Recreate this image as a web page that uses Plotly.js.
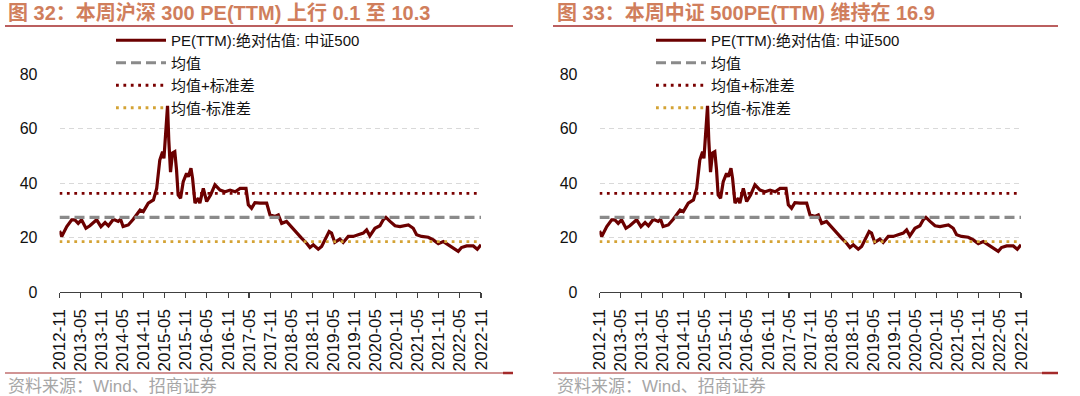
<!DOCTYPE html>
<html>
<head>
<meta charset="utf-8">
<script src="https://cdn.plot.ly/plotly-3.0.1.min.js"></script>
<style>html,body{margin:0;padding:0;background:#fff;}#chart{width:1080px;height:396px;}</style>
</head>
<body>
<div id="chart"></div>
<script>
// ---- data ----
const dates = ['2012-11-01','2012-11-20','2013-01-03','2013-02-15','2013-03-14','2013-04-12','2013-05-11','2013-06-18','2013-07-22','2013-09-19','2013-10-26','2013-12-01','2013-12-30','2014-02-11','2014-03-24','2014-04-14','2014-05-06','2014-06-20','2014-08-02','2014-09-01','2014-09-30','2014-10-28','2014-12-10','2015-01-24','2015-02-21','2015-03-20','2015-04-13','2015-04-25','2015-05-11','2015-05-26','2015-06-06','2015-06-21','2015-07-08','2015-07-28','2015-08-12','2015-08-26','2015-09-16','2015-10-09','2015-11-07','2015-11-22','2015-12-15','2015-12-29','2016-01-19','2016-02-17','2016-03-01','2016-03-31','2016-04-29','2016-06-02','2016-07-10','2016-08-23','2016-10-05','2016-11-18','2017-01-01','2017-02-13','2017-04-05','2017-04-25','2017-05-23','2017-06-21','2017-08-04','2017-10-01','2017-10-30','2017-12-12','2018-01-10','2018-02-08','2018-03-22','2018-05-04','2018-06-17','2018-07-30','2018-09-12','2018-10-11','2018-11-09','2018-12-22','2019-01-20','2019-02-19','2019-03-26','2019-04-16','2019-05-14','2019-06-27','2019-07-26','2019-09-08','2019-10-21','2019-12-03','2020-01-16','2020-02-14','2020-03-13','2020-04-26','2020-06-08','2020-07-07','2020-07-30','2020-09-04','2020-10-17','2020-11-29','2021-01-12','2021-02-10','2021-03-24','2021-04-22','2021-06-04','2021-08-01','2021-09-14','2021-10-27','2021-12-10','2022-01-22','2022-03-05','2022-04-18','2022-05-16','2022-06-29','2022-08-26','2022-09-30','2022-11-01'];
const pe = [22.4,20.4,24.0,26.5,26.5,25.2,26.5,23.4,24.3,26.5,24.0,25.5,24.3,26.7,25.9,26.7,24.0,24.6,26.7,28.3,30.1,29.5,32.6,33.8,38.0,48.4,51.5,49.0,58.0,68.3,55.7,44.0,51.0,51.5,44.8,35.6,34.4,40.5,43.5,42.3,45.4,41.7,32.6,34.4,32.6,38.0,33.2,35.6,39.3,37.4,36.8,37.4,36.8,38.0,38.0,32.0,30.7,32.8,32.6,32.6,28.3,27.7,28.3,25.2,25.9,23.8,21.6,19.8,17.9,16.3,17.3,15.7,16.7,19.4,22.2,21.6,18.2,19.4,18.2,20.4,20.4,21.0,21.6,22.8,20.6,23.4,24.3,26.5,27.4,25.9,24.3,24.0,24.3,24.6,23.4,21.0,20.4,20.1,19.1,17.7,18.5,17.3,16.1,14.9,16.3,16.9,16.9,15.7,17.3];
const meanVal = 27.35;
const upperVal = 36.2;   // 均值+标准差
const lowerVal = 18.5;   // 均值-标准差
const xStart = '2012-11-01';
const xEnd = '2022-11-01';
const tickDates = ['2012-11-01','2013-05-01','2013-11-01','2014-05-01','2014-11-01','2015-05-01','2015-11-01','2016-05-01','2016-11-01','2017-05-01','2017-11-01','2018-05-01','2018-11-01','2019-05-01','2019-11-01','2020-05-01','2020-11-01','2021-05-01','2021-11-01','2022-05-01','2022-11-01'];
const tickLabels = ['2012-11','2013-05','2013-11','2014-05','2014-11','2015-05','2015-11','2016-05','2016-11','2017-05','2017-11','2018-05','2018-11','2019-05','2019-11','2020-05','2020-11','2021-05','2021-11','2022-05','2022-11'];
const seriesNames = ['PE(TTM):绝对估值: 中证500','均值','均值+标准差','均值-标准差'];
const titles = ['图 32：本周沪深 300 PE(TTM) 上行 0.1 至 10.3','图 33：本周中证 500PE(TTM) 维持在 16.9'];
const sourceText = '资料来源：Wind、招商证券';

// ---- styling ----
const FONT = 'Liberation Sans, Arial, Noto Sans CJK SC, sans-serif';
const W = 1080, H = 396;
const px = v => v / W, py = v => 1 - v / H;

function panelTraces(suffix, legendName) {
  const xa = 'x' + suffix, ya = 'y' + suffix;
  return [
    {x: dates, y: pe, type: 'scatter', mode: 'lines', name: seriesNames[0], xaxis: xa, yaxis: ya, legend: legendName,
     line: {color: '#6b0000', width: 3.2}},
    {x: [xStart, xEnd], y: [meanVal, meanVal], type: 'scatter', mode: 'lines', name: seriesNames[1], xaxis: xa, yaxis: ya, legend: legendName,
     line: {color: '#8a8a8a', width: 3.2, dash: '10px,5px'}},
    {x: [xStart, xEnd], y: [upperVal, upperVal], type: 'scatter', mode: 'lines', name: seriesNames[2], xaxis: xa, yaxis: ya, legend: legendName,
     line: {color: '#7a0000', width: 2.8, dash: '2.8px,4.6px'}},
    {x: [xStart, xEnd], y: [lowerVal, lowerVal], type: 'scatter', mode: 'lines', name: seriesNames[3], xaxis: xa, yaxis: ya, legend: legendName,
     line: {color: '#d4a335', width: 2.8, dash: '2.8px,4.6px'}}
  ];
}

const traces = panelTraces('', 'legend').concat(panelTraces('2', 'legend2'));

function xAxis(domain, anchor) {
  return {domain: domain, anchor: anchor, type: 'date', range: [xStart, xEnd],
    tickmode: 'array', tickvals: tickDates, ticktext: tickLabels, tickangle: -90,
    tickfont: {family: FONT, size: 17, color: '#111'}, ticklabelstandoff: 4,
    showgrid: false, zeroline: false, showline: true, linecolor: '#404040', linewidth: 1.2,
    ticks: 'outside', ticklen: 5, tickcolor: '#404040', tickwidth: 1.2, fixedrange: true};
}
function yAxis(anchor) {
  return {domain: [py(292), py(74)], anchor: anchor, range: [0, 80], tickvals: [0, 20, 40, 60, 80],
    tickfont: {family: FONT, size: 16, color: '#111'},
    showgrid: true, gridcolor: '#d9d9d9', gridwidth: 1, griddash: '5px,4px',
    zeroline: false, showline: false, ticks: '', ticklabelstandoff: 21, fixedrange: true};
}

const legendBase = {bgcolor: 'rgba(0,0,0,0)', font: {family: FONT, size: 15, color: '#111'},
  xanchor: 'left', yanchor: 'top', tracegroupgap: 0, itemwidth: 50, itemclick: false};

const lineColor = '#a42a2a';
const shapes = [];
[[5, 513, 503], [553, 1058, 1042]].forEach(([x0, x1, xb]) => {
  shapes.push({type: 'line', xref: 'paper', yref: 'paper', x0: px(x0), x1: px(x1), y0: py(26), y1: py(26), line: {color: lineColor, width: 1.6}});
  shapes.push({type: 'line', xref: 'paper', yref: 'paper', x0: px(x0), x1: px(xb), y0: py(373), y1: py(373), line: {color: lineColor, width: 1.2}});
  shapes.push({type: 'line', xref: 'paper', yref: 'paper', x0: px(xb), x1: px(x1), y0: py(373), y1: py(373), line: {color: lineColor, width: 2.5}});
});

const annotations = [];
[[6, titles[0]], [555, titles[1]]].forEach(([x0, t]) => {
  annotations.push({text: '<b>' + t + '</b>', xref: 'paper', yref: 'paper', x: px(x0), y: py(13), xanchor: 'left', yanchor: 'middle',
    showarrow: false, font: {family: FONT, size: 20, color: '#d07e5c'}});
});
[6, 555].forEach(x0 => {
  annotations.push({text: sourceText, xref: 'paper', yref: 'paper', x: px(x0), y: py(386), xanchor: 'left', yanchor: 'middle',
    showarrow: false, font: {family: FONT, size: 17, color: '#a6a6a6'}});
});

const layout = {
  width: W, height: H, margin: {l: 0, r: 0, t: 0, b: 0},
  paper_bgcolor: '#fff', plot_bgcolor: 'rgba(0,0,0,0)', showlegend: true,
  xaxis: xAxis([px(59.5), px(481)], 'y'),
  yaxis: yAxis('x'),
  xaxis2: xAxis([px(599.5), px(1021)], 'y2'),
  yaxis2: yAxis('x2'),
  legend: Object.assign({}, legendBase, {x: px(111), y: py(24)}),
  legend2: Object.assign({}, legendBase, {x: px(651), y: py(24)}),
  shapes: shapes, annotations: annotations
};

Plotly.newPlot('chart', traces, layout, {displayModeBar: false, staticPlot: true});
</script>
</body>
</html>
